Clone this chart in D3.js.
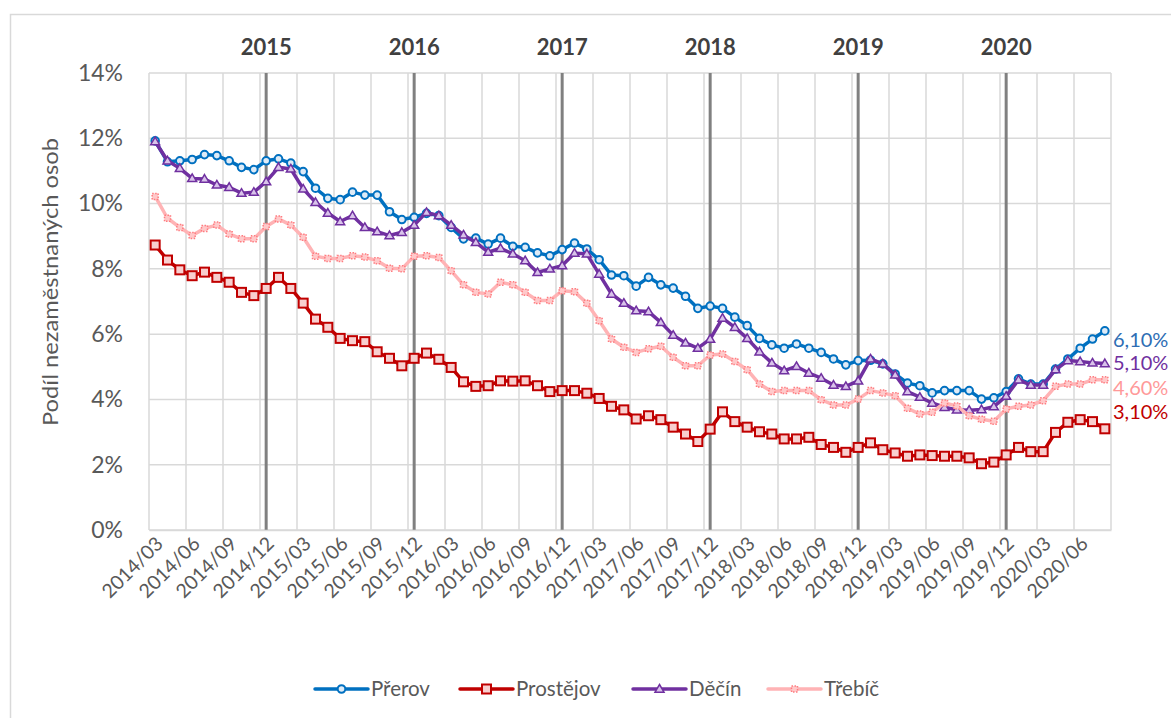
<!DOCTYPE html>
<html><head><meta charset="utf-8">
<script src="https://cdn.jsdelivr.net/npm/d3@7"></script>
<style>body{margin:0;background:#fff;} svg{display:block;font-family:Lato,"Open Sans",sans-serif;}</style>
</head><body><svg id="c" width="1171" height="718"></svg>
<script>
const categories = ["2014/03","2014/04","2014/05","2014/06","2014/07","2014/08","2014/09","2014/10","2014/11","2014/12",
"2015/01","2015/02","2015/03","2015/04","2015/05","2015/06","2015/07","2015/08","2015/09","2015/10","2015/11","2015/12",
"2016/01","2016/02","2016/03","2016/04","2016/05","2016/06","2016/07","2016/08","2016/09","2016/10","2016/11","2016/12",
"2017/01","2017/02","2017/03","2017/04","2017/05","2017/06","2017/07","2017/08","2017/09","2017/10","2017/11","2017/12",
"2018/01","2018/02","2018/03","2018/04","2018/05","2018/06","2018/07","2018/08","2018/09","2018/10","2018/11","2018/12",
"2019/01","2019/02","2019/03","2019/04","2019/05","2019/06","2019/07","2019/08","2019/09","2019/10","2019/11","2019/12",
"2020/01","2020/02","2020/03","2020/04","2020/05","2020/06","2020/07","2020/08"];

const prerov = [11.92,11.28,11.31,11.35,11.50,11.47,11.31,11.11,11.04,11.31,11.37,11.24,10.98,10.47,10.16,10.12,10.35,10.26,10.26,9.75,9.51,9.58,
9.70,9.63,9.27,8.92,8.94,8.76,8.94,8.69,8.66,8.49,8.40,8.59,8.79,8.61,8.28,7.81,7.79,7.47,7.74,7.51,7.41,7.16,6.79,6.86,
6.79,6.52,6.26,5.87,5.67,5.57,5.70,5.57,5.44,5.24,5.06,5.19,5.20,5.09,4.78,4.50,4.42,4.20,4.27,4.27,4.27,4.01,4.05,4.24,
4.63,4.47,4.47,4.93,5.24,5.57,5.85,6.10];
const prostejov = [8.73,8.27,7.97,7.79,7.90,7.74,7.59,7.28,7.18,7.40,7.74,7.40,6.95,6.46,6.21,5.87,5.80,5.77,5.46,5.26,5.03,5.26,
5.42,5.23,4.98,4.54,4.40,4.42,4.57,4.56,4.57,4.42,4.24,4.27,4.27,4.19,4.03,3.79,3.68,3.40,3.50,3.38,3.15,2.94,2.71,3.09,
3.62,3.32,3.15,3.01,2.94,2.79,2.79,2.84,2.62,2.53,2.38,2.53,2.67,2.46,2.36,2.26,2.30,2.28,2.26,2.26,2.21,2.03,2.08,2.30,
2.53,2.40,2.40,2.99,3.30,3.38,3.32,3.10];
const decin = [11.90,11.31,11.08,10.77,10.75,10.57,10.50,10.32,10.35,10.67,11.11,11.06,10.45,10.04,9.71,9.45,9.63,9.27,9.14,9.02,9.12,9.34,
9.73,9.63,9.34,9.04,8.81,8.51,8.63,8.46,8.25,7.89,8.00,8.10,8.48,8.46,7.84,7.23,6.95,6.72,6.69,6.36,5.97,5.73,5.57,5.85,
6.49,6.21,5.87,5.46,5.12,4.88,5.01,4.81,4.65,4.44,4.40,4.57,5.24,5.09,4.75,4.24,4.07,3.89,3.76,3.68,3.67,3.69,3.78,4.10,
4.60,4.44,4.44,4.91,5.19,5.16,5.12,5.10];
const trebic = [10.22,9.55,9.27,9.02,9.24,9.34,9.07,8.92,8.92,9.30,9.53,9.34,8.97,8.39,8.32,8.32,8.40,8.36,8.25,8.02,8.00,8.39,
8.40,8.35,7.94,7.51,7.28,7.23,7.59,7.51,7.28,7.03,7.03,7.33,7.30,6.95,6.41,5.85,5.60,5.44,5.55,5.63,5.29,5.03,5.03,5.36,
5.39,5.16,4.91,4.47,4.24,4.27,4.27,4.27,3.99,3.83,3.83,4.01,4.27,4.20,4.11,3.73,3.55,3.61,3.89,3.80,3.50,3.39,3.33,3.71,
3.79,3.83,3.96,4.40,4.47,4.47,4.60,4.60];

const seriesNames = ["Přerov","Prostějov","Děčín","Třebíč"];
const endLabels = ["6,10%","5,10%","4,60%","3,10%"];
const yTicks = [0,2,4,6,8,10,12,14];
const yearLabels = ["2015","2016","2017","2018","2019","2020"];
const yearCats = ["2014/12","2015/12","2016/12","2017/12","2018/12","2019/12"];

const svg = d3.select("#c");
const L = 149, R = 1111, T = 73, B = 530;
const x = d3.scaleBand().domain(categories).range([L, R]).padding(0);
const cx = c => x(c) + x.bandwidth() / 2;
const y = d3.scaleLinear().domain([0, 14]).range([B, T]);

// chart border
svg.append("rect").attr("x", 10.5).attr("y", 14.5).attr("width", 1200).attr("height", 800)
  .attr("fill", "none").attr("stroke", "#d9d9d9").attr("stroke-width", 1.5);

// horizontal gridlines
svg.append("g").selectAll("line").data(yTicks).join("line")
  .attr("x1", L).attr("x2", R).attr("y1", d => y(d)).attr("y2", d => y(d))
  .attr("stroke", "#d9d9d9").attr("stroke-width", 1.5);
// vertical gridlines at every 3rd category boundary
const vb = categories.filter((c, i) => i % 3 === 0);
svg.append("g").selectAll("line").data(vb).join("line")
  .attr("x1", d => x(d)).attr("x2", d => x(d)).attr("y1", T).attr("y2", B)
  .attr("stroke", "#d9d9d9").attr("stroke-width", 1.5);
svg.append("line").attr("x1", R).attr("x2", R).attr("y1", T).attr("y2", B)
  .attr("stroke", "#d9d9d9").attr("stroke-width", 1.5);

// year separator lines
svg.append("g").selectAll("line").data(yearCats).join("line")
  .attr("x1", d => cx(d)).attr("x2", d => cx(d)).attr("y1", T).attr("y2", B)
  .attr("stroke", "#808080").attr("stroke-width", 3);
svg.append("g").selectAll("text").data(yearCats).join("text")
  .attr("x", d => cx(d)).attr("y", 55).attr("text-anchor", "middle")
  .attr("font-size", 22).attr("font-weight", "bold").attr("fill", "#404040")
  .text((d, i) => yearLabels[i]);

// y axis
const ya = d3.axisLeft(y).tickValues(yTicks).tickSize(0).tickPadding(26).tickFormat(d => d + "%");
const yg = svg.append("g").attr("transform", `translate(${L},0)`).call(ya);
yg.select(".domain").remove();
yg.selectAll("text").attr("font-size", 23).attr("fill", "#595959").attr("font-family", "Lato");

svg.append("text").attr("transform", `translate(58,282) rotate(-90)`).attr("text-anchor", "middle")
  .attr("font-size", 21).attr("fill", "#595959")
  .attr("textLength", 288).attr("lengthAdjust", "spacingAndGlyphs")
  .text("Podíl nezaměstnaných osob");

// x axis
const xa = d3.axisBottom(x).tickValues(categories.filter((c, i) => i % 3 === 0)).tickSize(0).tickPadding(0);
const xg = svg.append("g").attr("transform", `translate(0,${B})`).call(xa);
xg.select(".domain").attr("stroke", "#d9d9d9").attr("stroke-width", 1.5);
xg.selectAll("text").attr("font-size", 19.5).attr("fill", "#595959").attr("font-family", "Lato")
  .attr("text-anchor", "end").attr("dy", 0)
  .attr("transform", "translate(9,15) rotate(-45)");

// series
const series = [
  {name: seriesNames[0], vals: prerov, color: "#0070c0", label: endLabels[0], lc: "#2e6db4"},
  {name: seriesNames[1], vals: prostejov, color: "#c00000", label: endLabels[3], lc: "#c00000"},
  {name: seriesNames[2], vals: decin, color: "#7030a0", label: endLabels[1], lc: "#7030a0"},
  {name: seriesNames[3], vals: trebic, color: "#ffb3b5", label: endLabels[2], lc: "#ff9999"}
];
const line = d3.line().x((d, i) => cx(categories[i])).y(d => y(d));

function marker(g, k, px, py) {
  if (k === 0) {
    g.append("circle").attr("cx", px).attr("cy", py).attr("r", 3.8)
      .attr("fill", "#deebf7").attr("stroke", "#0070c0").attr("stroke-width", 2);
  } else if (k === 1) {
    g.append("rect").attr("x", px - 4.5).attr("y", py - 4.5).attr("width", 9).attr("height", 9)
      .attr("fill", "#f8cfcf").attr("stroke", "#c00000").attr("stroke-width", 2);
  } else if (k === 2) {
    const s = 4.5;
    g.append("path").attr("d", `M${px},${py - s}L${px + s},${py + s * 0.7}L${px - s},${py + s * 0.7}Z`)
      .attr("fill", "#d9c3ea").attr("stroke", "#7030a0").attr("stroke-width", 1.5);
  } else {
    g.append("rect").attr("x", px - 3).attr("y", py - 3).attr("width", 6).attr("height", 6)
      .attr("fill", "#ffc9ca").attr("stroke", "#ff7c80").attr("stroke-width", 1.5).attr("stroke-dasharray", "1.5,1.5");
  }
}

series.forEach((s, k) => {
  const g = svg.append("g");
  g.append("path").datum(s.vals).attr("d", line).attr("fill", "none")
    .attr("stroke", s.color).attr("stroke-width", 3.5).attr("stroke-linejoin", "round");
  s.vals.forEach((v, i) => marker(g, k, cx(categories[i]), y(v)));
});

// end labels
const endY = [340, 412, 363, 388];
series.forEach((s, k) => {
  svg.append("text").attr("x", 1113).attr("y", endY[k]).attr("dy", "0.35em")
    .attr("font-size", 20).attr("fill", s.lc).text(s.label);
});

// legend
const legX = [315, 460, 633, 768];
series.forEach((s, k) => {
  const g = svg.append("g");
  const x0 = legX[k], ly = 689;
  g.append("line").attr("x1", x0).attr("x2", x0 + 53).attr("y1", ly).attr("y2", ly)
    .attr("stroke", s.color).attr("stroke-width", 3.5).attr("stroke-linecap", "round");
  marker(g, k, x0 + 26.5, ly);
  g.append("text").attr("x", x0 + 56).attr("y", ly).attr("dy", "0.35em")
    .attr("font-size", 20.5).attr("fill", "#595959").text(s.name);
});
</script></body></html>
